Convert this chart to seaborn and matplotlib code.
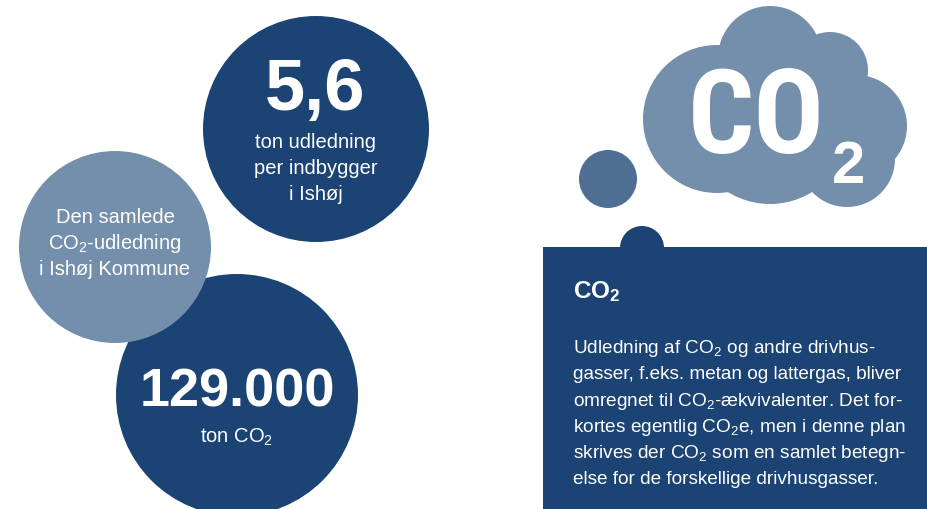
import matplotlib
matplotlib.use("Agg")
import matplotlib.pyplot as plt
import seaborn as sns
from matplotlib.patches import Circle, Rectangle
from matplotlib import font_manager as fm

# ---- data / text content ----
per_capita_value = "5,6"
per_capita_label = ["ton udledning", "per indbygger", "i Ishøj"]
total_value = "129.000"
total_unit = "ton CO$_2$"
total_label = ["Den samlede", "CO$_2$-udledning", "i Ishøj Kommune"]
cloud_text = ["CO", "2"]
box_title = "CO$_2$"
box_lines = [
    "Udledning af CO$_2$ og andre drivhus-",
    "gasser, f.eks. metan og lattergas, bliver",
    "omregnet til CO$_2$-ækvivalenter. Det for-",
    "kortes egentlig CO$_2$e, men i denne plan",
    "skrives der CO$_2$ som en samlet betegn-",
    "else for de forskellige drivhusgasser.",
]

# ---- style ----
sns.set_theme(style="white")
plt.rcParams["font.family"] = ["Liberation Sans", "DejaVu Sans"]
plt.rcParams["mathtext.default"] = "regular"

DARK = "#1b4374"
LIGHT = "#748fac"
MID = "#4f6e94"
WHITE = "white"

fig = plt.figure(figsize=(9.28, 5.10), dpi=100)
ax = fig.add_axes([0, 0, 1, 1])
ax.set_xlim(0, 928)
ax.set_ylim(510, 0)
ax.axis("off")

# ---- left bubbles ----
ax.add_patch(Circle((316, 130), 113, color=DARK, lw=0, zorder=1))
ax.add_patch(Circle((237, 396), 121, color=DARK, lw=0, zorder=1))
ax.add_patch(Circle((115, 248), 96, color=LIGHT, lw=0, zorder=2))

ax.text(315, 110, per_capita_value, color=WHITE, fontsize=52, fontweight="bold",
        ha="center", va="baseline", zorder=5)
for i, line in enumerate(per_capita_label):
    ax.text(316, 148 + 26 * i, line, color=WHITE, fontsize=14.5,
            ha="center", va="baseline", zorder=5)

for i, line in enumerate(total_label):
    ax.text(115, 223 + 26 * i, line, color=WHITE, fontsize=14.5,
            ha="center", va="baseline", zorder=5)

ax.text(237, 407, total_value, color=WHITE, fontsize=39, fontweight="bold",
        ha="center", va="baseline", zorder=5)
ax.text(237, 443, total_unit, color=WHITE, fontsize=14.5,
        ha="center", va="baseline", zorder=5)

# ---- cloud ----
for (cx, cy, r) in [(717, 120, 74), (770, 59, 52), (830, 71, 38),
                    (856, 127, 51), (847, 160, 48), (770, 125, 80),
                    (800, 110, 60)]:
    ax.add_patch(Circle((cx, cy), r, color=LIGHT, lw=0, zorder=1))
ax.add_patch(Circle((608, 180), 29, color=MID, lw=0, zorder=1))

# pick a condensed bold face if one is installed
available = {f.name for f in fm.fontManager.ttflist}
narrow_family = None
for cand in ["Roboto Condensed", "DejaVu Sans Condensed", "Liberation Sans Narrow",
             "Open Sans Condensed"]:
    if cand in available:
        narrow_family = cand
        break
has_cond_dejavu = any(f.name == "DejaVu Sans" and f.stretch == "condensed"
                      for f in fm.fontManager.ttflist)
if narrow_family is not None:
    co_kw = dict(family=[narrow_family, "DejaVu Sans"], fontsize=84)
elif has_cond_dejavu:
    co_kw = dict(family="DejaVu Sans", fontstretch="condensed", fontsize=80)
else:
    co_kw = dict(family=["Liberation Sans", "DejaVu Sans"], fontsize=72)

ax.text(756, 153, cloud_text[0], color=WHITE, fontweight="bold",
        ha="center", va="baseline", zorder=5, **co_kw)
ax.text(849, 183, cloud_text[1], color=WHITE, fontsize=43, fontweight="bold",
        family=["Liberation Sans", "DejaVu Sans"], ha="center", va="baseline",
        zorder=5)

# ---- info box ----
ax.add_patch(Rectangle((543, 248), 400, 270, color=DARK, lw=0, zorder=1))
ax.add_patch(Circle((642, 249), 22, color=DARK, lw=0, zorder=1))

ax.text(573, 298, box_title, color=WHITE, fontsize=17.5, fontweight="bold",
        ha="left", va="baseline", zorder=5)
for i, line in enumerate(box_lines):
    ax.text(573, 353 + 26.3 * i, line, color=WHITE, fontsize=13.7,
            ha="left", va="baseline", zorder=5)

fig.savefig("out.png", dpi=100, facecolor="white")
